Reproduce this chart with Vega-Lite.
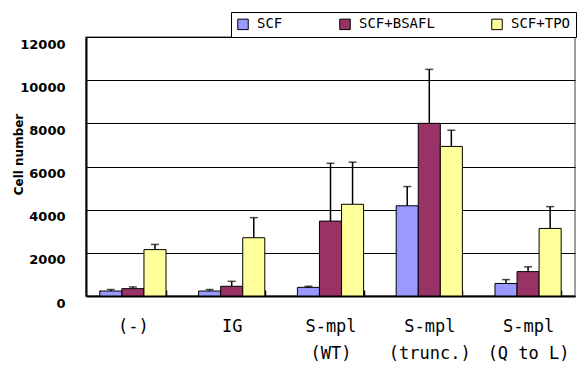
{
  "$schema": "https://vega.github.io/schema/vega-lite/v6.json",
  "width": 489,
  "height": 259,
  "autosize": {"type": "none"},
  "padding": {"left": 86, "top": 37, "right": 2, "bottom": 69},
  "background": "white",
  "config": {
    "view": {"stroke": "#808080", "strokeWidth": 1.5},
    "axis": {"domainColor": "black", "gridColor": "black", "gridOpacity": 1}
  },
  "data": {
    "values": [
      {"group": "(-)", "series": "SCF", "value": 230, "upper": 300},
      {"group": "(-)", "series": "SCF+BSAFL", "value": 340, "upper": 420},
      {"group": "(-)", "series": "SCF+TPO", "value": 2150, "upper": 2390},
      {"group": "IG", "series": "SCF", "value": 230, "upper": 300},
      {"group": "IG", "series": "SCF+BSAFL", "value": 450, "upper": 680},
      {"group": "IG", "series": "SCF+TPO", "value": 2700, "upper": 3630},
      {"group": "S-mpl|(WT)", "series": "SCF", "value": 400, "upper": 450},
      {"group": "S-mpl|(WT)", "series": "SCF+BSAFL", "value": 3470, "upper": 6150},
      {"group": "S-mpl|(WT)", "series": "SCF+TPO", "value": 4250, "upper": 6200},
      {"group": "S-mpl|(trunc.)", "series": "SCF", "value": 4180, "upper": 5070},
      {"group": "S-mpl|(trunc.)", "series": "SCF+BSAFL", "value": 8000, "upper": 10500},
      {"group": "S-mpl|(trunc.)", "series": "SCF+TPO", "value": 6930, "upper": 7680},
      {"group": "S-mpl|(Q to L)", "series": "SCF", "value": 580, "upper": 760},
      {"group": "S-mpl|(Q to L)", "series": "SCF+BSAFL", "value": 1130, "upper": 1350},
      {"group": "S-mpl|(Q to L)", "series": "SCF+TPO", "value": 3130, "upper": 4140}
    ]
  },
  "encoding": {
    "x": {
      "field": "group",
      "type": "nominal",
      "sort": null,
      "scale": {"paddingInner": 0.33, "paddingOuter": 0.14},
      "axis": {
        "title": null,
        "labelAngle": 0,
        "labelExpr": "split(datum.label, '|')",
        "labelFont": "DejaVu Sans Mono",
        "labelFontSize": 17,
        "labelColor": "black",
        "labelLineHeight": 27,
        "labelPadding": 28,
        "tickBand": "extent",
        "tickSize": -6,
        "tickColor": "black",
        "tickWidth": 1.5,
        "domainWidth": 2,
        "grid": false
      }
    },
    "xOffset": {"field": "series", "type": "nominal", "sort": ["SCF", "SCF+BSAFL", "SCF+TPO"], "scale": {"paddingInner": 0, "paddingOuter": 0}}
  },
  "layer": [
    {
      "mark": {"type": "bar", "stroke": "black", "strokeWidth": 1},
      "encoding": {
        "y": {
          "field": "value",
          "type": "quantitative",
          "scale": {"domain": [0, 12000], "nice": false},
          "axis": {
            "values": [0, 2000, 4000, 6000, 8000, 10000, 12000],
            "format": "d",
            "title": "Cell number",
            "titleFont": "DejaVu Sans",
            "titleFontSize": 12,
            "titleFontWeight": "bold",
            "titleColor": "black",
            "titleX": -68,
            "titleY": 117,
            "titleAngle": 270,
            "titleAlign": "center",
            "titleBaseline": "middle",
            "labelFont": "DejaVu Sans",
            "labelFontSize": 13,
            "labelFontWeight": "bold",
            "labelColor": "black",
            "labelBaseline": "top",
            "labelOffset": 1,
            "labelPadding": 21,
            "ticks": false,
            "domainWidth": 2,
            "grid": true,
            "gridWidth": 1.2
          }
        },
        "color": {
          "field": "series",
          "type": "nominal",
          "scale": {"domain": ["SCF", "SCF+BSAFL", "SCF+TPO"], "range": ["#9999FF", "#993366", "#FFFF99"]},
          "legend": {
            "title": null,
            "orient": "none",
            "direction": "horizontal",
            "legendX": 145,
            "legendY": -25,
            "symbolType": "square",
            "symbolSize": 110,
            "symbolStrokeColor": "black",
            "symbolStrokeWidth": 1,
            "symbolOpacity": 1,
            "labelFont": "DejaVu Sans Mono",
            "labelFontSize": 14,
            "labelColor": "black",
            "labelOffset": 7,
            "columnPadding": 54,
            "strokeColor": "black",
            "fillColor": "white",
            "padding": 5
          }
        }
      }
    },
    {
      "mark": {"type": "rule", "color": "black", "strokeWidth": 1.5},
      "encoding": {
        "y": {"field": "value", "type": "quantitative"},
        "y2": {"field": "upper"}
      }
    },
    {
      "mark": {"type": "tick", "color": "black", "thickness": 1.5, "size": 8, "orient": "horizontal"},
      "encoding": {
        "y": {"field": "upper", "type": "quantitative"}
      }
    }
  ]
}
